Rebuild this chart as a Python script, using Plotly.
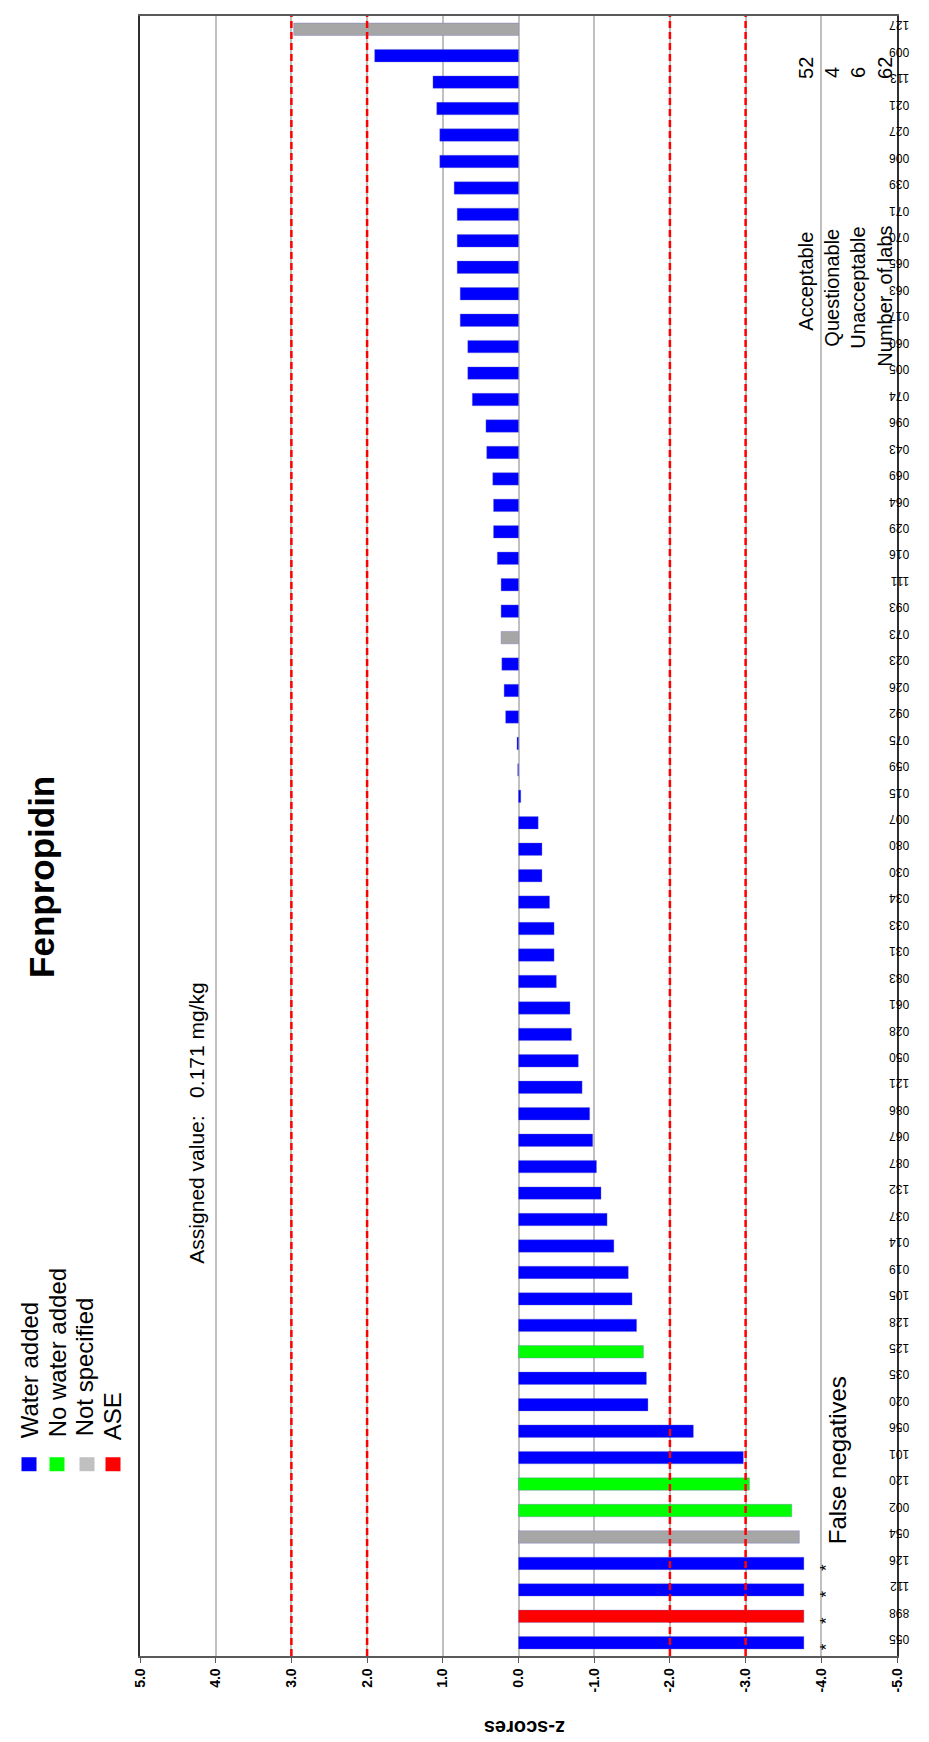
import plotly.graph_objects as go

# ---------------- data (bottom to top) ----------------
labs = ["055", "898", "112", "126", "054", "002", "120", "101", "056", "020",
        "035", "125", "128", "105", "019", "014", "037", "132", "087", "067",
        "086", "121", "050", "028", "061", "083", "031", "033", "034", "030",
        "080", "007", "015", "059", "075", "092", "026", "023", "073", "093",
        "111", "016", "029", "064", "069", "043", "096", "074", "005", "060",
        "017", "063", "065", "070", "071", "039", "006", "027", "021", "113",
        "009", "127"]

z_scores = [-3.77, -3.77, -3.77, -3.77, -3.71, -3.61, -3.05, -2.97, -2.31, -1.71,
            -1.69, -1.65, -1.56, -1.50, -1.45, -1.26, -1.17, -1.09, -1.03, -0.98,
            -0.94, -0.84, -0.79, -0.70, -0.68, -0.50, -0.47, -0.47, -0.41, -0.31,
            -0.31, -0.26, -0.03, 0.01, 0.02, 0.17, 0.19, 0.22, 0.23, 0.23,
            0.23, 0.28, 0.33, 0.33, 0.34, 0.42, 0.43, 0.61, 0.67, 0.67,
            0.77, 0.77, 0.81, 0.81, 0.81, 0.85, 1.04, 1.04, 1.08, 1.13,
            1.90, 2.97]

# W = water added, N = no water added, S = not specified, A = ASE
groups = ["W", "A", "W", "W", "S", "N", "N", "W", "W", "W",
          "W", "N", "W", "W", "W", "W", "W", "W", "W", "W",
          "W", "W", "W", "W", "W", "W", "W", "W", "W", "W",
          "W", "W", "W", "W", "W", "W", "W", "W", "S", "W",
          "W", "W", "W", "W", "W", "W", "W", "W", "W", "W",
          "W", "W", "W", "W", "W", "W", "W", "W", "W", "W",
          "W", "S"]

false_negatives = ["055", "898", "112", "126"]

legend_names = ["Water added", "No water added", "Not specified", "ASE"]
legend_keys = ["W", "N", "S", "A"]
bar_colors = {"W": "#0000FF", "N": "#00FF00", "S": "#A6A6A6", "A": "#FF0000"}
legend_colors = {"W": "#0000FF", "N": "#00FF00", "S": "#C0C0C0", "A": "#FF0000"}

stat_names = ["Acceptable", "Questionable", "Unacceptable", "Number  of labs"]
stat_values = ["52", "4", "6", "62"]

z_ticks = [5, 4, 3, 2, 1, 0, -1, -2, -3, -4, -5]
z_ticktext = ["%.1f" % v for v in z_ticks]
limit_lines = [3, 2, -2, -3]

title_text = "Fenpropidin"
assigned_text = "Assigned value:   0.171 mg/kg"

# ---------------- geometry helpers ----------------
W, H = 929, 1742
L, R, T, B = 132, 889, 6, 1648


def px(x):
    return (x - L) / (R - L)


def py(y):
    return (B - y) / (B - T)


FONT = "Liberation Sans, Arial, sans-serif"


def vtext(text, cx, cy, size, angle=-90, bold=False):
    """Rotated paper annotation centred on pixel position (cx, cy)."""
    return dict(text=("<b>%s</b>" % text) if bold else text,
                xref="paper", yref="paper", x=px(cx), y=py(cy),
                xanchor="center", yanchor="middle", textangle=angle,
                showarrow=False, font=dict(family=FONT, size=size, color="black"))


fig = go.Figure()
fig.add_trace(go.Bar(
    x=z_scores, y=labs, orientation="h",
    marker=dict(color=[bar_colors[g] for g in groups],
                line=dict(color="rgba(110,110,200,0.6)", width=0.6)),
    width=0.47, showlegend=False, hoverinfo="x+y",
))

annotations = []
shapes = []

# red dashed limit lines (on top of bars)
for v in limit_lines:
    shapes.append(dict(type="line", xref="x", yref="paper", x0=v, x1=v, y0=0, y1=1,
                       line=dict(color="#FF0000", width=2.5, dash="7px,4px"),
                       layer="above"))

# title
annotations.append(vtext(title_text, 34, 868, 35, bold=True))

# legend
leg_text_x = [21, 49, 76, 104]
leg_text_y = [1362, 1345, 1359, 1408]
leg_box_x = [21, 49, 79, 105]
for name, key, tx, ty, bx in zip(legend_names, legend_keys, leg_text_x, leg_text_y, leg_box_x):
    annotations.append(vtext(name, tx, ty, 24))
    shapes.append(dict(type="rect", xref="paper", yref="paper",
                       x0=px(bx - 7.5), x1=px(bx + 7.5), y0=py(1463), y1=py(1449),
                       fillcolor=legend_colors[key], line=dict(width=0)))

# assigned value
annotations.append(vtext(assigned_text, 189, 1115, 21))

# stats block
stat_x = [798, 824, 850, 877]
stat_label_y = [272, 278, 278, 287]
stat_value_y = [58, 63, 63, 58]
for name, val, cx, ly, vy in zip(stat_names, stat_values, stat_x, stat_label_y, stat_value_y):
    annotations.append(vtext(name, cx, ly, 20))
    annotations.append(vtext(val, cx, vy, 20))

# false negatives markers
for lab in false_negatives:
    annotations.append(dict(text="*", xref="x", yref="y", x=-4.07, y=labs.index(lab),
                            xanchor="center", yanchor="middle", yshift=-4,
                            textangle=-90, showarrow=False,
                            font=dict(family=FONT, size=17, color="black")))
annotations.append(vtext("False negatives", 829, 1452, 24))

# axis title
annotations.append(vtext("z-scores", 517, 1720, 20, angle=180, bold=True))

fig.update_layout(
    width=W, height=H,
    margin=dict(l=L, r=W - R, t=T, b=H - B, pad=0),
    paper_bgcolor="white", plot_bgcolor="white",
    annotations=annotations, shapes=shapes,
    xaxis=dict(range=[5, -5], tickvals=z_ticks, ticktext=z_ticktext,
               tickangle=-90, ticks="outside", ticklen=5, tickcolor="#595959",
               tickfont=dict(family=FONT, size=14, color="black", weight="bold"),
               showgrid=True, gridcolor="#C0C0C0", gridwidth=1.5,
               zeroline=True, zerolinecolor="#C0C0C0", zerolinewidth=1.5,
               showline=True, linecolor="#595959", linewidth=1.5, mirror=True),
    yaxis=dict(type="category", categoryorder="array", categoryarray=labs,
               range=[-0.5, len(labs) - 0.5], side="right", tickangle=180,
               ticks="", ticklabelstandoff=8,
               tickfont=dict(family=FONT, size=12, color="black"),
               showgrid=False, zeroline=False,
               showline=True, linecolor="#303030", linewidth=1.5, mirror=True),
    font=dict(family=FONT),
)

fig.write_html("out.html")
